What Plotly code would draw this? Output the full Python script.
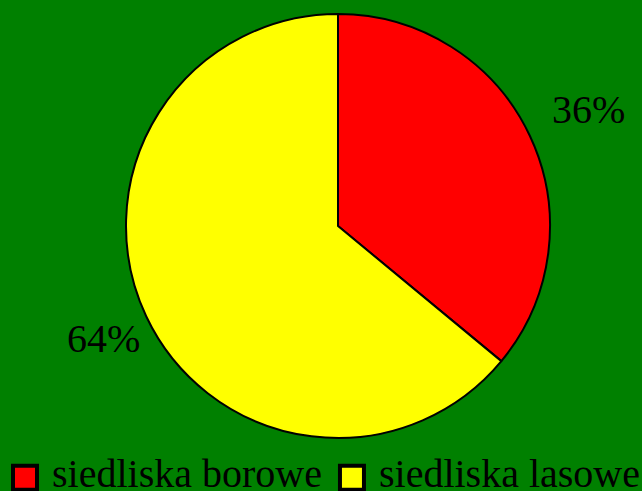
import math
import plotly.graph_objects as go

categories = ["siedliska borowe", "siedliska lasowe"]
values = [36, 64]
colors = ["#ff0000", "#ffff00"]

W, H = 642, 491
cx_px, cy_px, R = 338, 226, 212
dom_x = [(cx_px - R) / W, (cx_px + R) / W]
dom_y = [1 - (cy_px + R) / H, 1 - (cy_px - R) / H]

fig = go.Figure(go.Pie(
    labels=categories,
    values=values,
    sort=False,
    direction="clockwise",
    rotation=0,
    marker=dict(colors=colors, line=dict(color="#000000", width=2)),
    textinfo="none",
    domain=dict(x=dom_x, y=dom_y),
    hoverinfo="label+percent",
))

# percent labels placed outside along each slice's mid angle
total = sum(values)
cum = 0
label_r = 268
for v in values:
    mid = (cum + v / 2) / total * 2 * math.pi
    cum += v
    x = (cx_px + label_r * math.sin(mid)) / W
    y = 1 - (cy_px - label_r * math.cos(mid)) / H
    fig.add_annotation(
        x=x, y=y, xref="paper", yref="paper", showarrow=False,
        text=f"{round(v / total * 100)}%",
        font=dict(family="Liberation Serif", size=40, color="#000000"),
        xanchor="center", yanchor="middle", xshift=8, yshift=2,
    )

fig.update_layout(
    width=W, height=H,
    paper_bgcolor="#008000",
    plot_bgcolor="#008000",
    margin=dict(l=0, r=0, t=0, b=0, autoexpand=False),
    showlegend=True,
    legend=dict(
        orientation="h", x=0.0, y=-0.027, xanchor="left", yanchor="bottom",
        font=dict(family="Liberation Serif", size=40, color="#000000"),
        bgcolor="rgba(0,0,0,0)", itemwidth=42, tracegroupgap=0,
    ),
)

post = """
document.body.style.margin='0';
document.body.style.background='#008000';
document.querySelectorAll('.legendpoints path').forEach(function(p){
  p.setAttribute('transform','translate(25,6) scale(2)');
});
"""

fig.write_html("out.html", config={"displayModeBar": False}, post_script=post)
